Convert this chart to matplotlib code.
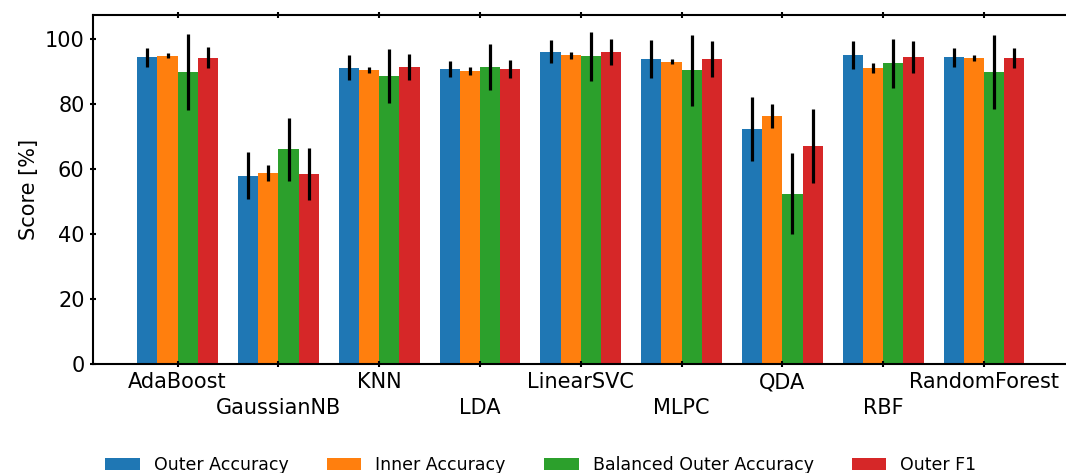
import numpy as np
import matplotlib.pyplot as plt

models = ['AdaBoost', 'GaussianNB', 'KNN', 'LDA', 'LinearSVC', 'MLPC', 'QDA', 'RBF', 'RandomForest']
series = ['Outer Accuracy', 'Inner Accuracy', 'Balanced Outer Accuracy', 'Outer F1']

outer_acc = [94.5, 58.0, 91.3, 91.0, 96.2, 93.9, 72.3, 95.2, 94.5]
outer_acc_err = [3.0, 7.3, 3.8, 2.5, 3.6, 5.8, 9.9, 4.3, 2.9]
inner_acc = [95.0, 58.9, 90.7, 90.3, 95.1, 93.1, 76.3, 91.1, 94.3]
inner_acc_err = [0.7, 2.4, 0.9, 1.2, 1.1, 0.8, 3.7, 1.6, 1.0]
bal_acc = [90.1, 66.1, 88.6, 91.4, 94.8, 90.5, 52.4, 92.6, 90.1]
bal_acc_err = [11.7, 9.7, 8.3, 7.1, 7.6, 11.0, 12.5, 7.5, 11.4]
outer_f1 = [94.4, 58.6, 91.5, 90.9, 96.1, 93.9, 67.2, 94.6, 94.2]
outer_f1_err = [3.2, 8.0, 3.9, 2.8, 4.0, 5.5, 11.5, 5.0, 3.1]

values = [outer_acc, inner_acc, bal_acc, outer_f1]
errors = [outer_acc_err, inner_acc_err, bal_acc_err, outer_f1_err]

fig = plt.figure(figsize=(10.66, 4.73), dpi=100)
ax = fig.add_axes([0.0872, 0.2304, 0.9153, 0.7379])

x = np.arange(len(models))
w = 0.2
for i, (name, v, e) in enumerate(zip(series, values, errors)):
    ax.bar(x + (i - 1.5) * w, v, w, yerr=e, label=name,
           error_kw=dict(elinewidth=2.3, ecolor='black', capsize=0))

ax.set_xticks(x)
ax.set_xticklabels([m if i % 2 == 0 else '\n' + m for i, m in enumerate(models)],
                   fontsize=15, linespacing=1.35)
ax.tick_params(axis='y', labelsize=15)
ax.tick_params(direction='inout', top=True, right=True, width=1.5, length=5)
for s in ax.spines.values():
    s.set_linewidth(1.5)
ax.set_ylabel('Score [%]', fontsize=15)

ax.legend(loc='center', bbox_to_anchor=(0.459, -0.29), ncol=4, frameon=False,
          fontsize=12.5, columnspacing=2.2)

plt.savefig('out.png', dpi=100)
